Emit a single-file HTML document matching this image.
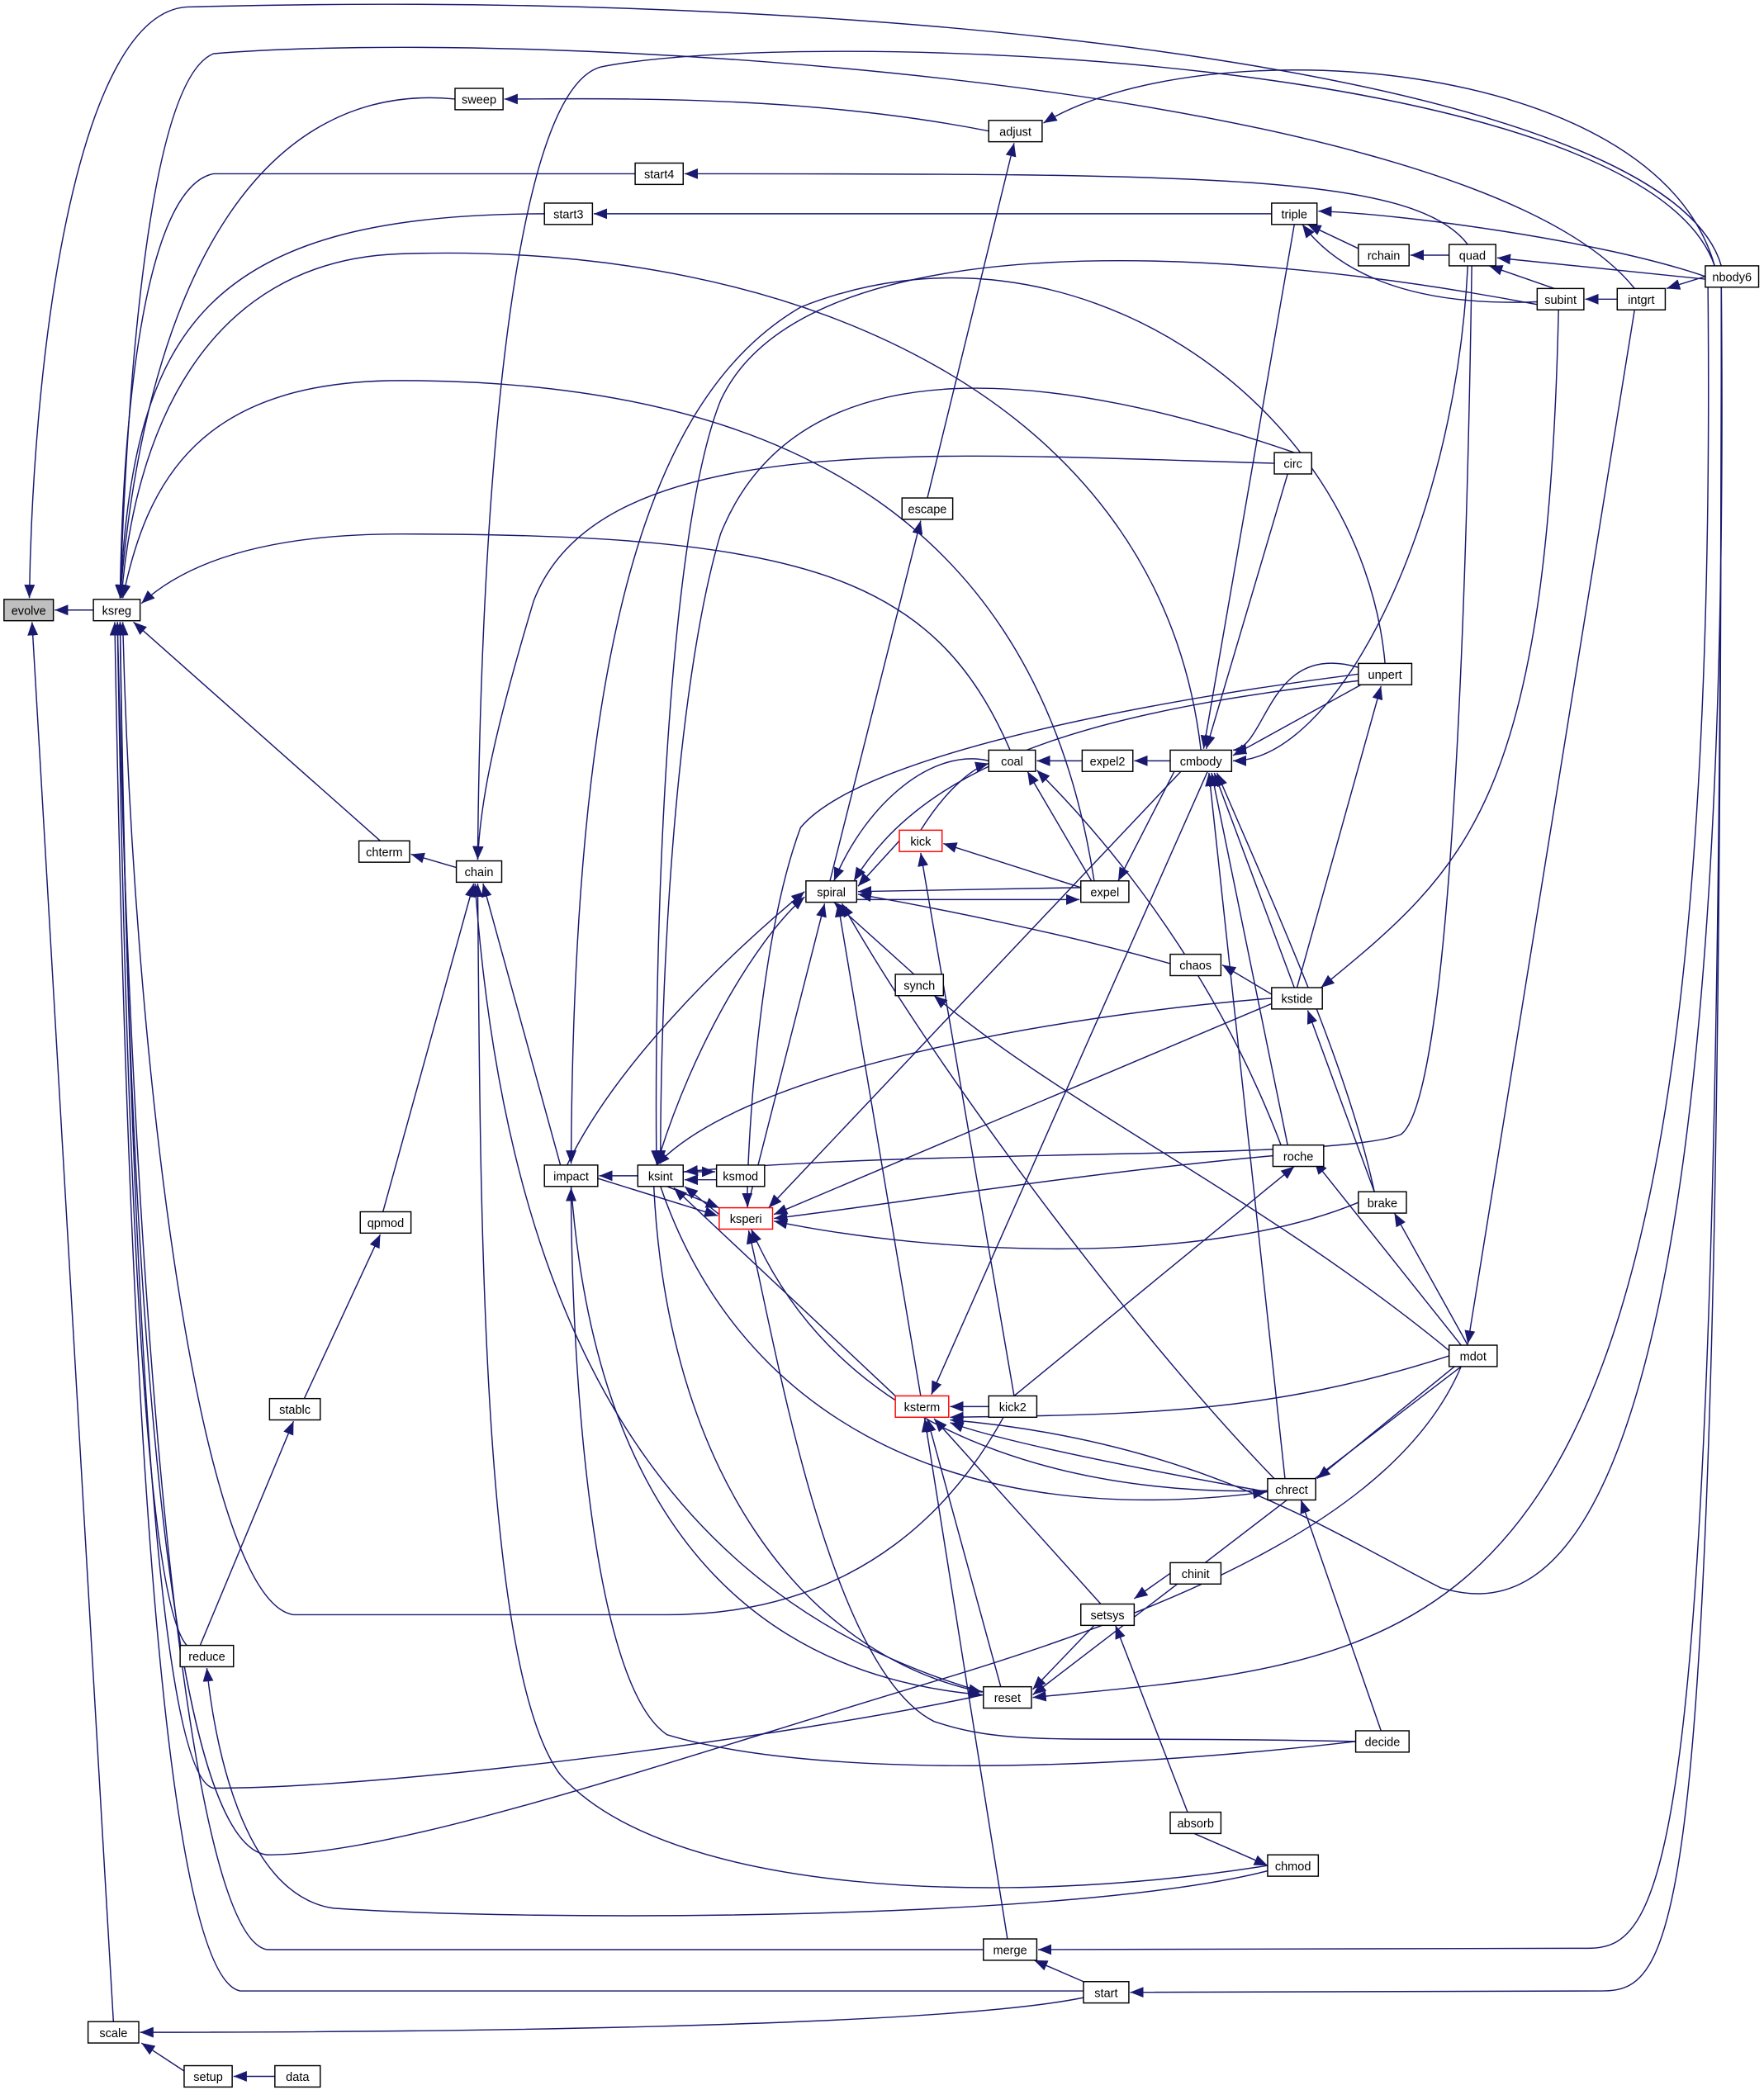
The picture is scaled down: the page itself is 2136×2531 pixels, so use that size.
<!DOCTYPE html>
<html><head><meta charset="utf-8"><style>
html,body{margin:0;padding:0;background:#fff;}
svg{display:block;}
text{font-family:"Liberation Sans",sans-serif;font-size:9px;fill:#000;}
</style></head><body>
<svg width="2136" height="2531" viewBox="0 0 1322 1566" xmlns="http://www.w3.org/2000/svg">
<defs><marker id="a" viewBox="0 0 10 10" refX="10" refY="5" markerWidth="10" markerHeight="10" markerUnits="userSpaceOnUse" orient="auto"><path d="M0,1 L10,5 L0,9 z" fill="#191970"/></marker></defs>
<g fill="none" stroke="#191970" stroke-width="0.9" marker-end="url(#a)">
<path d="M70,457 L41,457"/>
<path d="M1290,199 C1250,60 700,-10 140,5 C60,10 25,250 22,448"/>
<path d="M85,1515 L24,466"/>
<path d="M341,74 C200,60 110,200 90,448"/>
<path d="M741,98 C600,70 450,74 378,74"/>
<path d="M476,130 L160,130 C110,140 92,300 90,448"/>
<path d="M408,160 C150,160 100,250 90,448"/>
<path d="M953,160 L445,160"/>
<path d="M1100,183 C1060,130 900,130 513,130"/>
<path d="M1285,199 C1240,40 900,20 782,92"/>
<path d="M1285,199 C1230,40 600,20 450,50 C380,70 360,400 358,644"/>
<path d="M1278,207 C1200,180 1050,160 988,158"/>
<path d="M1152,226 C1050,230 1000,200 976,168"/>
<path d="M1086,191 L1057,191"/>
<path d="M1018,186 L980,168"/>
<path d="M1278,209 L1122,193"/>
<path d="M1165,216 L1116,199"/>
<path d="M1212,224 L1188,224"/>
<path d="M1278,207 L1249,216"/>
<path d="M900,562 C870,300 600,180 300,190 C150,195 100,330 91,448"/>
<path d="M1152,228 C900,180 600,170 540,300 C500,400 490,700 492,872"/>
<path d="M1225,216 C1100,60 400,20 160,40 C110,60 95,300 90,448"/>
<path d="M285,630 L100,466"/>
<path d="M342,650 L308,640"/>
<path d="M757,562 C700,430 600,400 300,400 C180,400 130,430 106,452"/>
<path d="M820,660 C780,400 600,285 300,285 C150,285 110,360 92,448"/>
<path d="M752,1062 C720,1120 650,1210 500,1210 L220,1210 C150,1200 100,800 92,466"/>
<path d="M737,1270 C600,1300 300,1340 160,1340 C110,1330 95,800 90,466"/>
<path d="M1095,1024 C1050,1130 900,1200 700,1260 C500,1320 300,1390 200,1390 C120,1380 95,900 90,466"/>
<path d="M737,1461 L200,1461 C140,1450 100,1000 88,466"/>
<path d="M812,1492 L180,1492 C120,1480 95,1000 86,466"/>
<path d="M140,1233 C110,1200 95,900 88,466"/>
<path d="M420,873 L362,662"/>
<path d="M950,1398 C750,1430 500,1420 420,1330 C360,1250 360,900 358,662"/>
<path d="M287,908 L355,662"/>
<path d="M737,1268 C500,1200 380,1000 356,662"/>
<path d="M955,347 C700,340 450,320 400,450 C370,550 360,600 358,644"/>
<path d="M228,1048 L285,925"/>
<path d="M150,1233 L220,1065"/>
<path d="M950,1402 C800,1440 400,1440 250,1430 C180,1420 160,1300 155,1250"/>
<path d="M478,881 L449,881"/>
<path d="M425,873 C460,800 540,720 603,668"/>
<path d="M448,883 L538,911"/>
<path d="M1038,497 C1020,300 800,150 600,230 C480,300 430,500 428,872"/>
<path d="M1016,1305 C800,1330 600,1330 500,1300 C440,1260 428,1000 428,890"/>
<path d="M428,889 C440,1050 500,1250 736,1270"/>
<path d="M512,878 L536,878"/>
<path d="M537,884 L513,884"/>
<path d="M539,910 L513,889"/>
<path d="M500,889 L539,905"/>
<path d="M953,748 C800,760 560,800 492,873"/>
<path d="M1103,199 C1100,400 1090,820 1050,850 C1000,870 700,860 513,878"/>
<path d="M492,873 C520,780 570,700 603,672"/>
<path d="M970,339 C800,280 600,250 540,400 C510,500 495,700 495,872"/>
<path d="M671,1046 L505,890"/>
<path d="M490,889 C500,1100 600,1240 736,1268"/>
<path d="M495,889 C550,1050 700,1150 949,1118"/>
<path d="M953,752 L580,910"/>
<path d="M954,866 C800,880 650,905 580,913"/>
<path d="M1018,901 C900,950 700,940 580,915"/>
<path d="M885,578 L576,905"/>
<path d="M950,1117 C850,1120 640,1100 563,921"/>
<path d="M1016,1305 C800,1300 760,1310 700,1290 C620,1250 580,1000 561,922"/>
<path d="M1018,505 C900,520 650,560 600,620 C570,700 560,850 560,904"/>
<path d="M560,905 L618,677"/>
<path d="M877,722 C800,700 700,680 643,670"/>
<path d="M955,1108 C850,1000 700,800 631,677"/>
<path d="M690,1046 L628,677"/>
<path d="M622,660 L690,390"/>
<path d="M695,373 L760,107"/>
<path d="M1018,510 C850,530 700,560 640,660"/>
<path d="M810,665 L643,668"/>
<path d="M642,674 L809,674"/>
<path d="M674,630 L643,664"/>
<path d="M810,665 L707,632"/>
<path d="M760,1046 L690,639"/>
<path d="M690,622 C710,590 730,575 741,572"/>
<path d="M741,570 C700,560 650,600 625,660"/>
<path d="M811,570 L777,570"/>
<path d="M818,660 L770,578"/>
<path d="M960,858 C900,700 800,600 777,577"/>
<path d="M877,570 L850,570"/>
<path d="M1020,513 L924,566"/>
<path d="M970,168 L902,561"/>
<path d="M965,355 L904,561"/>
<path d="M970,740 L910,579"/>
<path d="M1030,893 C1010,800 960,690 912,579"/>
<path d="M965,858 L908,579"/>
<path d="M963,1108 L906,579"/>
<path d="M1100,199 C1090,400 1000,570 924,570"/>
<path d="M880,578 L838,660"/>
<path d="M905,578 L698,1045"/>
<path d="M1018,500 C950,480 950,560 924,562"/>
<path d="M953,745 L916,723"/>
<path d="M972,740 L1035,514"/>
<path d="M1030,893 L980,757"/>
<path d="M760,1046 L970,874"/>
<path d="M1095,1008 L985,870"/>
<path d="M1100,1008 L1045,909"/>
<path d="M1086,1012 C950,900 800,830 700,746"/>
<path d="M685,730 L625,676"/>
<path d="M741,1054 L712,1054"/>
<path d="M1086,1016 C950,1060 850,1060 712,1062"/>
<path d="M950,1118 C850,1100 750,1080 712,1066"/>
<path d="M1290,215 C1300,1200 1150,1210 1080,1190 C1000,1150 900,1080 712,1064"/>
<path d="M825,1202 L700,1063"/>
<path d="M750,1264 L695,1063"/>
<path d="M755,1453 L693,1063"/>
<path d="M1090,1024 L987,1108"/>
<path d="M1035,1297 L975,1124"/>
<path d="M877,1179 L850,1198"/>
<path d="M890,1358 L836,1218"/>
<path d="M820,1218 L774,1266"/>
<path d="M1095,1024 L774,1270"/>
<path d="M1280,215 C1290,1250 1100,1240 774,1272"/>
<path d="M1225,232 L1100,1007"/>
<path d="M1168,232 C1160,600 1100,650 990,740"/>
<path d="M895,1374 L950,1398"/>
<path d="M812,1485 L775,1469"/>
<path d="M1290,215 C1290,1400 1250,1460 1190,1460 L778,1461"/>
<path d="M1290,215 C1290,1450 1260,1492 1200,1492 L847,1493"/>
<path d="M812,1497 C700,1520 300,1523 105,1523"/>
<path d="M138,1552 L106,1531"/>
<path d="M206,1556 L175,1556"/>
</g>
<g stroke="#000" stroke-width="0.9" fill="#fff">
<rect x="3" y="449" width="37" height="16" fill="#bfbfbf"/>
<rect x="70" y="449" width="35" height="16"/>
<rect x="341" y="66" width="36" height="16"/>
<rect x="741" y="90" width="40" height="16"/>
<rect x="476" y="122" width="36" height="16"/>
<rect x="408" y="152" width="36" height="16"/>
<rect x="953" y="152" width="34" height="16"/>
<rect x="1018" y="183" width="38" height="16"/>
<rect x="1086" y="183" width="35" height="16"/>
<rect x="1278" y="199" width="40" height="16"/>
<rect x="1152" y="216" width="35" height="16"/>
<rect x="1212" y="216" width="36" height="16"/>
<rect x="955" y="339" width="28" height="16"/>
<rect x="676" y="373" width="38" height="16"/>
<rect x="1018" y="497" width="40" height="16"/>
<rect x="877" y="562" width="46" height="16"/>
<rect x="811" y="562" width="38" height="16"/>
<rect x="741" y="562" width="35" height="16"/>
<rect x="674" y="622" width="32" height="16" stroke="#f00"/>
<rect x="604" y="660" width="38" height="16"/>
<rect x="810" y="660" width="36" height="16"/>
<rect x="269" y="630" width="38" height="16"/>
<rect x="342" y="645" width="34" height="16"/>
<rect x="877" y="715" width="38" height="16"/>
<rect x="953" y="740" width="38" height="16"/>
<rect x="671" y="730" width="36" height="16"/>
<rect x="408" y="873" width="40" height="16"/>
<rect x="478" y="873" width="34" height="16"/>
<rect x="537" y="873" width="36" height="16"/>
<rect x="539" y="905" width="40" height="16" stroke="#f00"/>
<rect x="954" y="858" width="38" height="16"/>
<rect x="1018" y="893" width="36" height="16"/>
<rect x="270" y="908" width="38" height="16"/>
<rect x="1086" y="1008" width="36" height="16"/>
<rect x="202" y="1048" width="38" height="16"/>
<rect x="671" y="1046" width="40" height="16" stroke="#f00"/>
<rect x="741" y="1046" width="36" height="16"/>
<rect x="950" y="1108" width="36" height="16"/>
<rect x="877" y="1171" width="38" height="16"/>
<rect x="810" y="1202" width="40" height="16"/>
<rect x="135" y="1233" width="40" height="16"/>
<rect x="737" y="1264" width="36" height="16"/>
<rect x="1016" y="1297" width="40" height="16"/>
<rect x="877" y="1358" width="38" height="16"/>
<rect x="950" y="1390" width="38" height="16"/>
<rect x="737" y="1453" width="40" height="16"/>
<rect x="812" y="1485" width="34" height="16"/>
<rect x="66" y="1515" width="38" height="16"/>
<rect x="138" y="1548" width="36" height="16"/>
<rect x="206" y="1548" width="34" height="16"/>
</g>
<g text-anchor="middle">
<text x="21.5" y="460.5">evolve</text>
<text x="87.5" y="460.5">ksreg</text>
<text x="359" y="77.5">sweep</text>
<text x="761" y="101.5">adjust</text>
<text x="494" y="133.5">start4</text>
<text x="426" y="163.5">start3</text>
<text x="970" y="163.5">triple</text>
<text x="1037" y="194.5">rchain</text>
<text x="1103.5" y="194.5">quad</text>
<text x="1298" y="210.5">nbody6</text>
<text x="1169.5" y="227.5">subint</text>
<text x="1230" y="227.5">intgrt</text>
<text x="969" y="350.5">circ</text>
<text x="695" y="384.5">escape</text>
<text x="1038" y="508.5">unpert</text>
<text x="900" y="573.5">cmbody</text>
<text x="830" y="573.5">expel2</text>
<text x="758.5" y="573.5">coal</text>
<text x="690" y="633.5" fill="#f00">kick</text>
<text x="623" y="671.5">spiral</text>
<text x="828" y="671.5">expel</text>
<text x="288" y="641.5">chterm</text>
<text x="359" y="656.5">chain</text>
<text x="896" y="726.5">chaos</text>
<text x="972" y="751.5">kstide</text>
<text x="689" y="741.5">synch</text>
<text x="428" y="884.5">impact</text>
<text x="495" y="884.5">ksint</text>
<text x="555" y="884.5">ksmod</text>
<text x="559" y="916.5">ksperi</text>
<text x="973" y="869.5">roche</text>
<text x="1036" y="904.5">brake</text>
<text x="289" y="919.5">qpmod</text>
<text x="1104" y="1019.5">mdot</text>
<text x="221" y="1059.5">stablc</text>
<text x="691" y="1057.5">ksterm</text>
<text x="759" y="1057.5">kick2</text>
<text x="968" y="1119.5">chrect</text>
<text x="896" y="1182.5">chinit</text>
<text x="830" y="1213.5">setsys</text>
<text x="155" y="1244.5">reduce</text>
<text x="755" y="1275.5">reset</text>
<text x="1036" y="1308.5">decide</text>
<text x="896" y="1369.5">absorb</text>
<text x="969" y="1401.5">chmod</text>
<text x="757" y="1464.5">merge</text>
<text x="829" y="1496.5">start</text>
<text x="85" y="1526.5">scale</text>
<text x="156" y="1559.5">setup</text>
<text x="223" y="1559.5">data</text>
</g>
</svg>
</body></html>
